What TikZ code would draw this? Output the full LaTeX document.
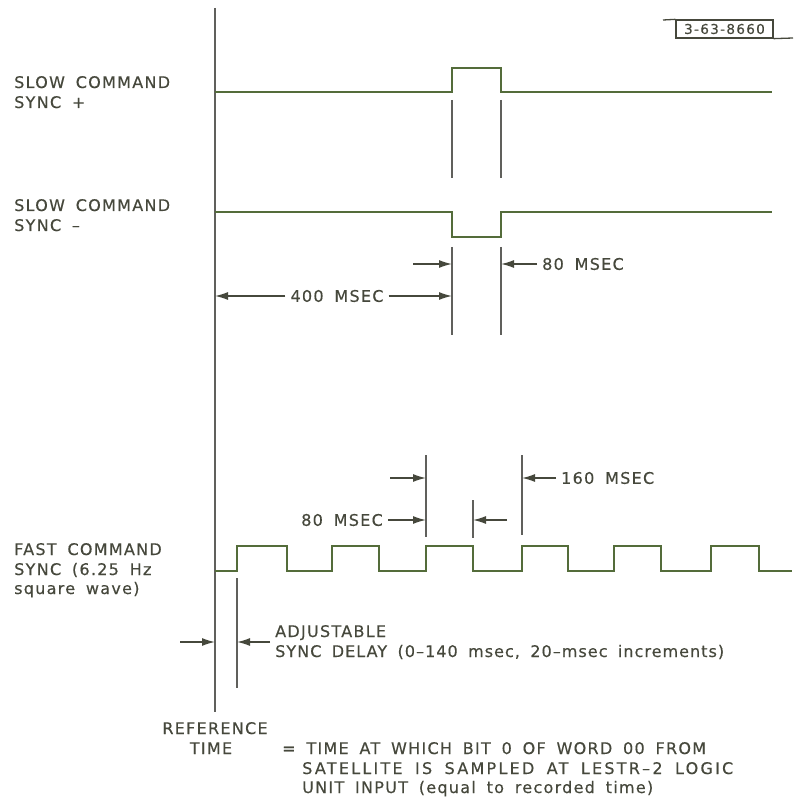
\documentclass[tikz,border=0pt]{standalone}
\usepackage{fontspec}
\setmainfont{DejaVu Sans}[LetterSpace=8, WordSpace=1.7, FakeBold=0.4]
\usetikzlibrary{arrows.meta, positioning}
\definecolor{trace}{RGB}{84,108,58}
\definecolor{ink}{RGB}{70,72,60}
\definecolor{rule}{RGB}{96,96,92}

\begin{document}
\begin{tikzpicture}[
    x=1pt, y=-1pt,
    txt/.style={font=\fontsize{16}{20}\selectfont, text=ink, inner sep=0pt, anchor=base west},
    dimlabel/.style={font=\fontsize{16}{20}\selectfont, text=ink, inner xsep=5pt, inner ysep=0pt},
    wave/.style={draw=trace, line width=2.5pt},
    refline/.style={draw=rule, line width=2.4pt},
    tick/.style={draw=rule, line width=1.4pt},
    dim/.style={-{Latex[length=13pt, width=8pt]}, draw=ink, line width=1.4pt},
    tagbox/.style={draw=ink, line width=1.3pt, minimum width=97pt, minimum height=18pt, inner sep=0pt, text=ink,
        font=\fontsize{13.5}{14}\selectfont\addfontfeature{LetterSpace=10}}
]
\useasboundingbox (0,0) rectangle (796,799);

% drawing number
\node[tagbox] (tag) at (724.5,29) {3-63-8660};
\coordinate (tagl) at (663,20);
\coordinate (tagr) at (793,38);
\draw[draw=ink, line width=1.3pt] (tagl) -- (tag.north west);
\draw[draw=ink, line width=1.3pt] (tag.south east) -- (tagr);

% reference time
\coordinate (reftop) at (215,8);
\coordinate (refbot) at (215,712);
\draw[refline] (reftop) -- (refbot);

% signal labels
\node[txt] (slowp1) at (14,88) {SLOW COMMAND};
\node[txt] (slowp2) at (14,108) {SYNC +};
\node[txt] (slowm1) at (14,211) {SLOW COMMAND};
\node[txt] (slowm2) at (14,231) {SYNC –};
\node[txt] (fast1) at (14,555) {FAST COMMAND};
\node[txt] (fast2) at (14,575) {SYNC (6.25 Hz};
\node[txt] (fast3) at (14,594) {square wave)};

% waveforms
\draw[wave] (215,92) -- (452,92) -- (452,68) -- (501,68) -- (501,92) -- (772,92);
\draw[wave] (215,212) -- (452,212) -- (452,237) -- (501,237) -- (501,212) -- (772,212);
\draw[wave] (215,571) -- (237,571) -- (237,546) -- (287,546) -- (287,571)
    -- (332,571) -- (332,546) -- (379,546) -- (379,571)
    -- (426,571) -- (426,546) -- (473,546) -- (473,571)
    -- (522,571) -- (522,546) -- (568,546) -- (568,571)
    -- (614,571) -- (614,546) -- (661,546) -- (661,571)
    -- (711,571) -- (711,546) -- (759,546) -- (759,571) -- (792,571);

% slow pulse extension lines
\draw[tick] (452,100) -- (452,178);
\draw[tick] (501,100) -- (501,178);
\draw[tick] (452,247) -- (452,335);
\draw[tick] (501,247) -- (501,335);

% fast wave extension lines
\draw[tick] (426,455) -- (426,537);
\draw[tick] (473,500) -- (473,538);
\draw[tick] (522,455) -- (522,535);
\draw[tick] (237,578) -- (237,688);

% 400 msec
\node[dimlabel] (t400) at (337,296) {400 MSEC};
\coordinate (a400) at (215,296);
\coordinate (b400) at (452,296);
\draw[dim] (t400.west) -- (a400);
\draw[dim] (t400.east) -- (b400);

% 80 msec (slow)
\coordinate (s80a) at (413,264);
\coordinate (s80b) at (452,264);
\coordinate (s80c) at (501,264);
\node[dimlabel, anchor=west] (t80s) at (537,264) {80 MSEC};
\draw[dim] (s80a) -- (s80b);
\draw[dim] (t80s.west) -- (s80c);

% 160 msec
\coordinate (f160a) at (390,478);
\coordinate (f160b) at (426,478);
\coordinate (f160c) at (522,478);
\node[dimlabel, anchor=west] (t160) at (556,478) {160 MSEC};
\draw[dim] (f160a) -- (f160b);
\draw[dim] (t160.west) -- (f160c);

% 80 msec (fast)
\coordinate (f80b) at (426,520);
\coordinate (f80c) at (507,520);
\coordinate (f80d) at (473,520);
\node[dimlabel, anchor=east] (t80f) at (388,520) {80 MSEC};
\draw[dim] (t80f.east) -- (f80b);
\draw[dim] (f80c) -- (f80d);

% sync delay
\coordinate (dla) at (180,642);
\coordinate (dlb) at (215,642);
\coordinate (dlc) at (270,642);
\coordinate (dld) at (237,642);
\draw[dim] (dla) -- (dlb);
\draw[dim] (dlc) -- (dld);
\node[txt] (adj1) at (275,637) {ADJUSTABLE};
\node[txt] (adj2) at (275,657) {\addfontfeature{LetterSpace=6.5}SYNC DELAY (0--140 msec, 20--msec increments)};

% reference time note
\node[txt, anchor=base] (ref1) at (215,734) {REFERENCE};
\node[txt, anchor=base] (ref2) at (211,754) {TIME};
\node[txt] (note1) at (282,754) {= TIME AT WHICH BIT 0 OF WORD 00 FROM};
\node[txt] (note2) at (302,774) {\addfontfeature{LetterSpace=14}SATELLITE IS SAMPLED AT LESTR--2 LOGIC};
\node[txt] (note3) at (302,793) {UNIT INPUT (equal to recorded time)};
\end{tikzpicture}
\end{document}
